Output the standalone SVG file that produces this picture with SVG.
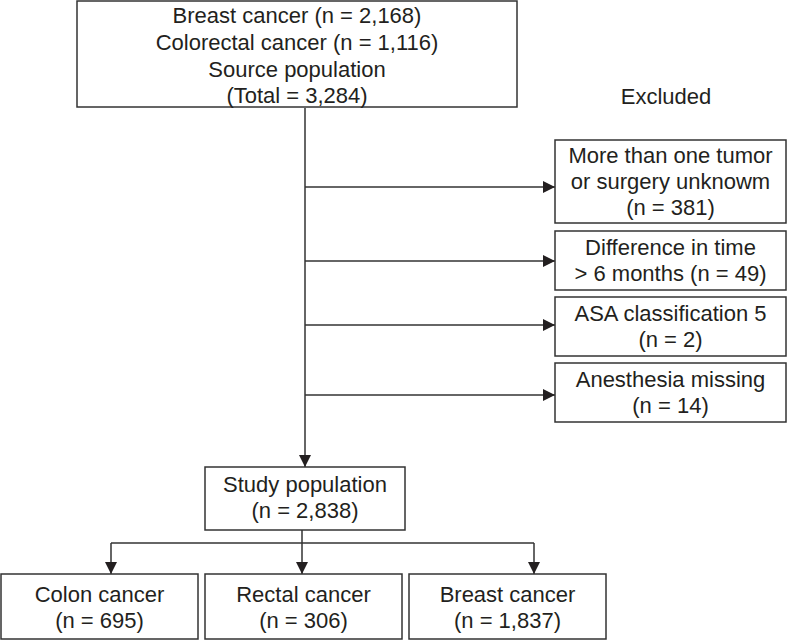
<svg xmlns="http://www.w3.org/2000/svg" width="787" height="640" viewBox="0 0 787 640">
<style>
.box{fill:#fff;stroke:#333;stroke-width:1.5}
.t{font-family:"Liberation Sans",Arial,sans-serif;font-size:22px;fill:#231f20;text-anchor:middle}
.c{fill:none;stroke:#333;stroke-width:1.5}
</style>
<defs>
<marker id="ah" markerWidth="12" markerHeight="12" refX="12" refY="6" orient="auto" markerUnits="userSpaceOnUse">
<path d="M0,0 L12,6 L0,12 Z" fill="#231f20"/>
</marker>
</defs>
<rect width="787" height="640" fill="#fff"/>
<g id="connectors">
<line class="c" x1="305" y1="108" x2="305" y2="467" marker-end="url(#ah)"/>
<line class="c" x1="305" y1="187" x2="555" y2="187" marker-end="url(#ah)"/>
<line class="c" x1="305" y1="261" x2="555" y2="261" marker-end="url(#ah)"/>
<line class="c" x1="305" y1="325" x2="555" y2="325" marker-end="url(#ah)"/>
<line class="c" x1="305" y1="395" x2="555" y2="395" marker-end="url(#ah)"/>
<line class="c" x1="302" y1="530" x2="302" y2="574" marker-end="url(#ah)"/>
<line class="c" x1="111" y1="543" x2="534" y2="543"/>
<line class="c" x1="111" y1="543" x2="111" y2="574" marker-end="url(#ah)"/>
<line class="c" x1="534" y1="543" x2="534" y2="574" marker-end="url(#ah)"/>
</g>
<g id="source">
<rect class="box" x="77" y="1" width="440" height="106"/>
<text class="t" x="297" y="23">Breast cancer (n = 2,168)</text>
<text class="t" x="297" y="50">Colorectal cancer (n = 1,116)</text>
<text class="t" x="297" y="77">Source population</text>
<text class="t" x="297" y="103">(Total = 3,284)</text>
</g>
<g id="excluded-label">
<text class="t" x="666" y="104">Excluded</text>
</g>
<g id="ex1">
<rect class="box" x="555" y="140" width="231" height="83"/>
<text class="t" x="670.5" y="163">More than one tumor</text>
<text class="t" x="670.5" y="189">or surgery unknowm</text>
<text class="t" x="670.5" y="215">(n = 381)</text>
</g>
<g id="ex2">
<rect class="box" x="555" y="231" width="231" height="59"/>
<text class="t" x="670.5" y="255">Difference in time</text>
<text class="t" x="670.5" y="281">&gt; 6 months (n = 49)</text>
</g>
<g id="ex3">
<rect class="box" x="555" y="297" width="231" height="59"/>
<text class="t" x="670.5" y="321">ASA classification 5</text>
<text class="t" x="670.5" y="347">(n = 2)</text>
</g>
<g id="ex4">
<rect class="box" x="555" y="363" width="231" height="59"/>
<text class="t" x="670.5" y="387">Anesthesia missing</text>
<text class="t" x="670.5" y="413">(n = 14)</text>
</g>
<g id="study">
<rect class="box" x="205" y="467" width="200" height="63"/>
<text class="t" x="305" y="492">Study population</text>
<text class="t" x="305" y="518">(n = 2,838)</text>
</g>
<g id="colon">
<rect class="box" x="1" y="574" width="197" height="65"/>
<text class="t" x="99.5" y="602">Colon cancer</text>
<text class="t" x="99.5" y="628">(n = 695)</text>
</g>
<g id="rectal">
<rect class="box" x="205" y="574" width="197" height="65"/>
<text class="t" x="303.5" y="602">Rectal cancer</text>
<text class="t" x="303.5" y="628">(n = 306)</text>
</g>
<g id="breast">
<rect class="box" x="409" y="574" width="197" height="65"/>
<text class="t" x="507.5" y="602">Breast cancer</text>
<text class="t" x="507.5" y="628">(n = 1,837)</text>
</g>
</svg>
